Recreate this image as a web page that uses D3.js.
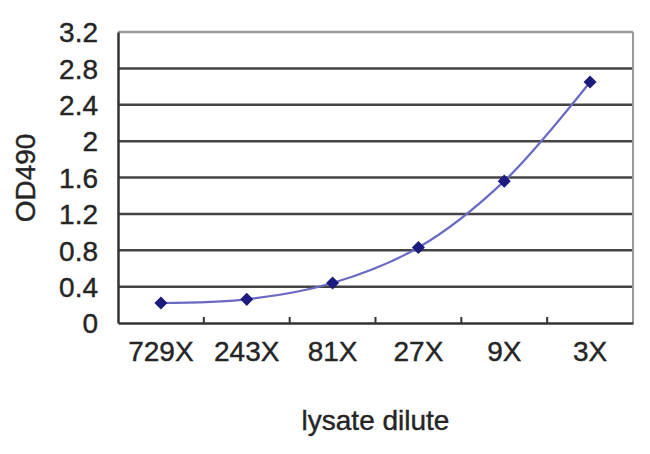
<!DOCTYPE html>
<html>
<meta charset="utf-8">
<style>
body { margin: 0; background: #fff; }
svg text { font-family: "Liberation Sans", Arial, sans-serif; fill: #252525; stroke: #252525; stroke-width: 0.4; }
</style>
<script src="https://d3js.org/d3.v7.min.js"></script>
<body>
<div id="chart"></div>
<script>
// dilution series
var categories = ["729X", "243X", "81X", "27X", "9X", "3X"];
var od490 = [0.22, 0.26, 0.44, 0.83, 1.56, 2.65];
var yTicks = [0, 0.4, 0.8, 1.2, 1.6, 2, 2.4, 2.8, 3.2];

var width = 650, height = 454;
var margin = { top: 32, right: 17, bottom: 131, left: 118 };
var w = width - margin.left - margin.right,
    h = height - margin.top - margin.bottom;

var svg = d3.select("#chart").append("svg")
    .attr("width", width)
    .attr("height", height);

var g = svg.append("g")
    .attr("transform", "translate(" + margin.left + "," + margin.top + ")");

var x = d3.scaleBand().domain(categories).range([0, w]);
var y = d3.scaleLinear().domain([0, 3.2]).range([h, 0]);

// horizontal gridlines
g.selectAll("line.grid")
    .data(yTicks.slice(1))
    .enter().append("line")
    .attr("class", "grid")
    .attr("x1", 0).attr("x2", w)
    .attr("y1", function(d) { return y(d); })
    .attr("y2", function(d) { return y(d); })
    .attr("stroke", function(d) { return d === 3.2 ? "#9a9a9a" : "#444"; })
    .attr("stroke-width", 2.5);

// right border
g.append("line")
    .attr("x1", w).attr("x2", w)
    .attr("y1", 0).attr("y2", h)
    .attr("stroke", "#9a9a9a")
    .attr("stroke-width", 2);

// y axis
var yAxis = g.append("g")
    .call(d3.axisLeft(y).tickValues(yTicks).tickSize(0).tickPadding(20)
        .tickFormat(function(d) { return d3.format("")(d); }));
yAxis.select(".domain").attr("stroke", "#333").attr("stroke-width", 2.5);
yAxis.selectAll("text").attr("font-size", 28).attr("dy", "0.35em");

// x axis, ticks between categories pointing up
var xAxis = g.append("g")
    .attr("transform", "translate(0," + h + ")")
    .call(d3.axisBottom(x).tickSize(0).tickPadding(38));
xAxis.select(".domain").attr("stroke", "#333").attr("stroke-width", 2.5);
xAxis.selectAll("text").attr("font-size", 28).attr("dy", "0");

g.selectAll("line.xtick")
    .data(categories.slice(1))
    .enter().append("line")
    .attr("class", "xtick")
    .attr("x1", function(d) { return x(d); })
    .attr("x2", function(d) { return x(d); })
    .attr("y1", h).attr("y2", h - 6)
    .attr("stroke", "#333")
    .attr("stroke-width", 2);

// the curve
var line = d3.line()
    .x(function(d, i) { return x(categories[i]) + x.bandwidth() / 2; })
    .y(function(d) { return y(d); })
    .curve(d3.curveCatmullRom);

g.append("path")
    .datum(od490)
    .attr("fill", "none")
    .attr("stroke", "#6a6ac4")
    .attr("stroke-width", 2.2)
    .attr("d", line);

// square diamonds (square turned 45deg)
g.selectAll("path.pt")
    .data(od490)
    .enter().append("path")
    .attr("class", "pt")
    .attr("d", d3.symbol().type(d3.symbolSquare).size(85))
    .attr("transform", function(d, i) {
        return "translate(" + (x(categories[i]) + x.bandwidth() / 2) + "," + y(d) + ") rotate(45)";
    })
    .attr("fill", "#1c1c7e");

// axis titles
svg.append("text")
    .attr("x", margin.left + w / 2)
    .attr("y", 430)
    .attr("text-anchor", "middle")
    .attr("font-size", 28)
    .text("lysate dilute");

svg.append("text")
    .attr("transform", "translate(35,178) rotate(-90)")
    .attr("text-anchor", "middle")
    .attr("font-size", 28)
    .text("OD490");
</script>
</body>
</html>
